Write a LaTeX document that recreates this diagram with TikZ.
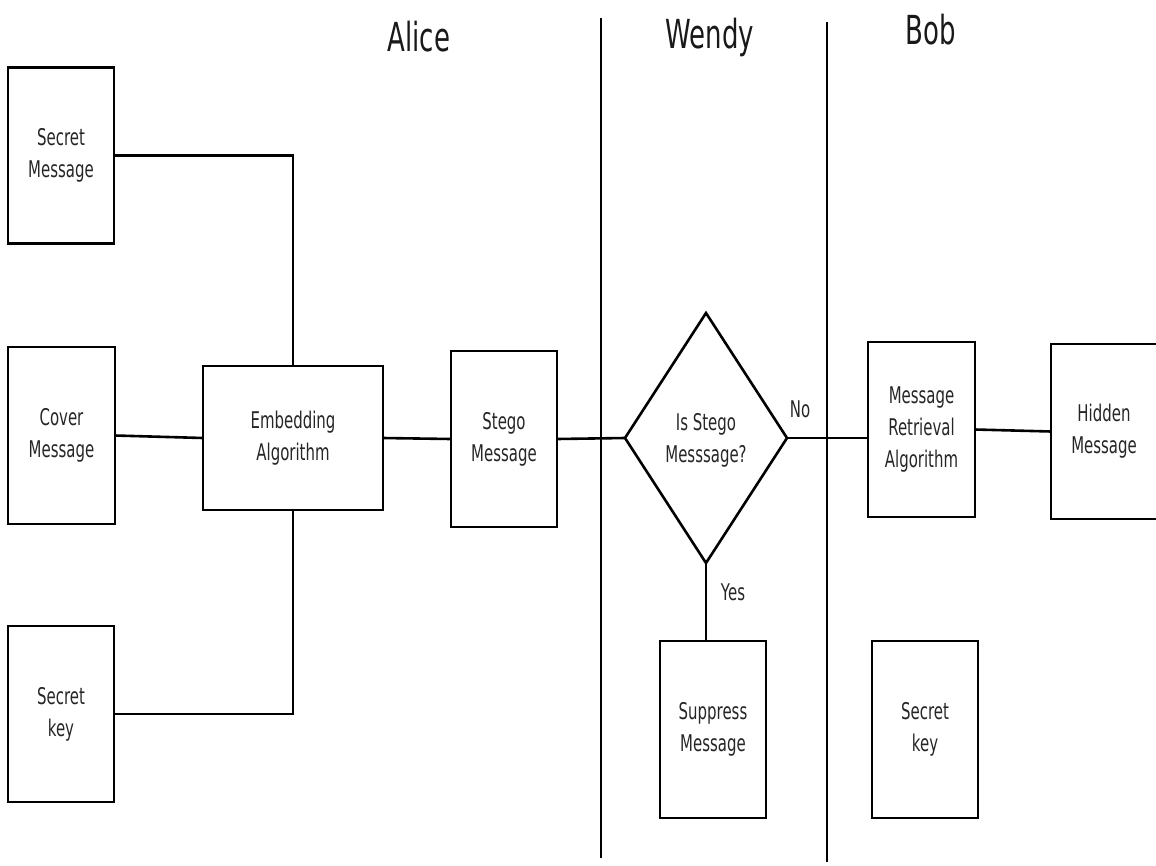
\documentclass[tikz,border=0pt]{standalone}
\usepackage{fontspec}
\setmainfont{DejaVu Sans}[FakeStretch=0.65]
\usetikzlibrary{shapes.geometric}
\begin{document}
\begin{tikzpicture}[x=1pt,y=-1pt,
  lw/.style={line width=2.6pt},
  txt/.style={font=\fontsize{23}{32}\selectfont, align=center, text=black!85},
  box/.style={draw, lw, txt, rectangle, inner sep=0pt, outer sep=0pt, minimum width=106pt, minimum height=176pt},
  title/.style={font=\fontsize{40}{48}\selectfont, text=black!90},
  conn/.style={draw, lw}]
\useasboundingbox (0,0) rectangle (1156,865);
% lane titles
\node[title] (alice) at (419,37) {Alice};
\node[title] (wendy) at (710,37) {Wendy};
\node[title] (bob) at (931,30) {Bob};
% lane separators
\coordinate (s1t) at (601,18); \coordinate (s1b) at (601,858);
\coordinate (s2t) at (827,22); \coordinate (s2b) at (827,862);
\draw[lw] (s1t) -- (s1b);
\draw[lw] (s2t) -- (s2b);
% Alice
\node[box] (sm) at (61,155.5) {Secret\\Message};
\node[box, minimum width=107pt, minimum height=177pt] (cm) at (61.5,435.5) {Cover\\Message};
\node[box] (sk) at (61,714) {Secret\\key};
\node[box, minimum width=180pt, minimum height=144pt] (emb) at (293,438) {Embedding\\Algorithm};
\node[box] (stego) at (504,439) {Stego\\Message};
% Wendy
\node[draw, lw, diamond, txt, inner sep=0pt, outer sep=0pt, minimum width=162pt, minimum height=250pt] (dia) at (706,438) {};
\node[txt] (diat) at (706,440) {Is Stego\\Messsage?};
\node[box, minimum height=177pt] (sup) at (713,729.5) {Suppress\\Message};
% Bob
\node[box, minimum width=107pt, minimum height=175pt] (mra) at (921.5,429.5) {Message\\Retrieval\\Algorithm};
\node[box, minimum height=175pt] (hid) at (1104,431.5) {Hidden\\Message};
\node[box, minimum height=177pt] (sk2) at (925,729.5) {Secret\\key};
% connectors
\draw[conn] (sm.east) -| (emb.north);
\draw[conn] (sk.east) -| (emb.south);
\draw[conn] (cm.east) -- (emb.west);
\draw[conn] (emb.east) -- (stego.west);
\draw[conn] (stego.east) -- (dia.west);
\draw[conn] (dia.east) -- (dia.east -| mra.west);
\draw[conn] (mra.east) -- (hid.west);
\draw[conn] (dia.south) -- (dia.south |- sup.north);
% labels
\node[txt] (no) at (800,409) {No};
\node[txt] (yes) at (733,592) {Yes};
\end{tikzpicture}
\end{document}
